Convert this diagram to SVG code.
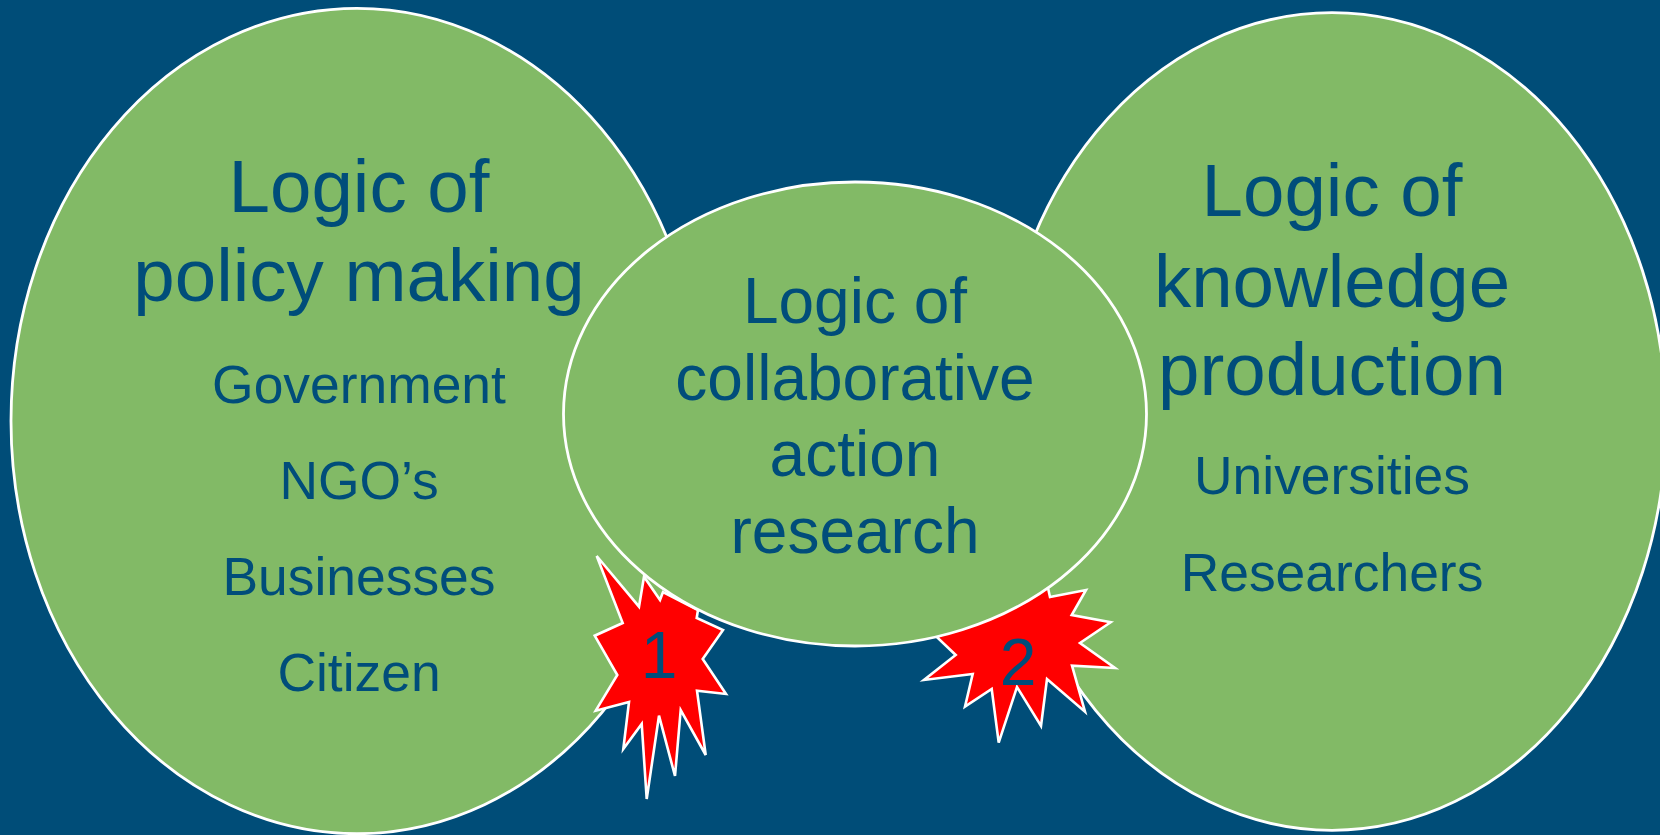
<svg xmlns="http://www.w3.org/2000/svg" width="1660" height="835" viewBox="0 0 1660 835">
<style>
.e{fill:#82BA66;stroke:#fff;stroke-width:2.8}
.s{fill:#f00;stroke:#fff;stroke-width:2.6}
text{font-family:"Liberation Sans",Arial,sans-serif;fill:#004D7A;text-anchor:middle}
.a{font-size:74.5px}.b{font-size:53.4px}.c{font-size:64px}.d{font-size:66px}
</style>
<rect width="1660" height="835" fill="#004D78"/>
<g id="left"><ellipse class="e" cx="357" cy="421" rx="346" ry="412.7"/></g>
<g id="right"><ellipse class="e" cx="1332" cy="421.5" rx="334" ry="408.8"/></g>
<g id="burst1"><polygon class="s" points="596.7,556 639,606.7 644,576.7 660,600 663,592 698,610 696.7,618 723,630 702.7,659 726,694 697,690.7 705.7,755 680.7,710 675,776 659,715.7 646.7,799 641.7,724 623.3,749 629,702 595.7,710.7 617.3,675 594.7,635.7 622.7,623"/></g>
<g id="burst2"><polygon class="s" points="1048,588 1050,597 1086,590 1071.7,615 1110.7,622.3 1080,643 1115,668 1072,665.7 1085,711.7 1047,679 1041,726 1017,687 998.7,742.7 991.7,689 965,706.7 972.7,674 924,680 955.7,655 936.7,637"/></g>
<g id="center"><ellipse class="e" cx="855" cy="414" rx="291.5" ry="232"/></g>
<g id="left-text">
<text class="a" x="359" y="212">Logic of</text>
<text class="a" x="359" y="301">policy making</text>
<text class="b" x="359" y="403">Government</text>
<text class="b" x="359" y="499">NGO’s</text>
<text class="b" x="359" y="595">Businesses</text>
<text class="b" x="359" y="691">Citizen</text>
</g>
<g id="right-text">
<text class="a" x="1332" y="216">Logic of</text>
<text class="a" x="1332" y="307">knowledge</text>
<text class="a" x="1332" y="395">production</text>
<text class="b" x="1332" y="494">Universities</text>
<text class="b" x="1332" y="591">Researchers</text>
</g>
<g id="center-text">
<text class="c" x="855" y="323">Logic of</text>
<text class="c" x="855" y="400">collaborative</text>
<text class="c" x="855" y="476">action</text>
<text class="c" x="855" y="553">research</text>
</g>
<text class="d" x="659" y="678">1</text>
<text class="d" x="1018" y="685">2</text>
</svg>
